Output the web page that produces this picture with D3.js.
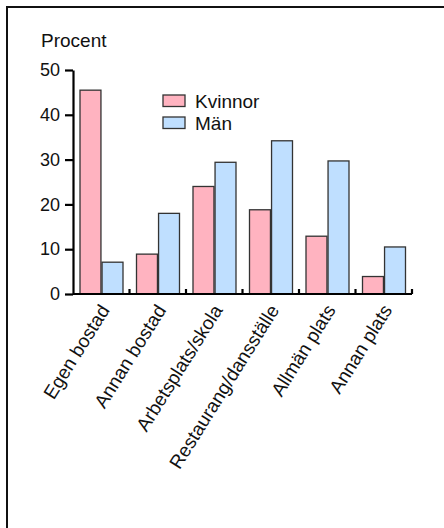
<!DOCTYPE html>
<html>
<head>
<meta charset="utf-8">
<script src="https://cdn.jsdelivr.net/npm/d3@7"></script>
<style>
  body { margin: 0; background: #fff; overflow: hidden; }
  svg { display: block; }
  svg text { font-family: "Liberation Sans", Arial, sans-serif; fill: #111; }
</style>
</head>
<body>
<svg width="444" height="528"></svg>
<script>
const categories = ["Egen bostad", "Annan bostad", "Arbetsplats/skola", "Restaurang/dansställe", "Allmän plats", "Annan plats"];
const series = ["Kvinnor", "Män"];
const kvinnor = [45.5, 8.9, 24.0, 18.8, 12.9, 3.9];
const man = [7.1, 18.0, 29.4, 34.2, 29.7, 10.5];
const yTicks = [0, 10, 20, 30, 40, 50];
const colors = ["#ffb3c0", "#bfdfff"];

let svg = d3.select("svg");

// frame, right and bottom edges fall outside the picture
svg.append("rect")
  .attr("x", 7).attr("y", 7)
  .attr("width", 460).attr("height", 540)
  .attr("fill", "none").attr("stroke", "#111").attr("stroke-width", 2);

let x = d3.scaleBand().domain(categories).range([73, 412]);
let xs = d3.scaleBand().domain(series).range([7, 50]).paddingInner(0.05);
let y = d3.scaleLinear().domain([0, 50]).range([294, 70]);

let rows = categories.map((c, i) => ({ cat: c, vals: [kvinnor[i], man[i]] }));

let groups = svg.append("g")
  .selectAll("g")
  .data(rows)
  .enter()
  .append("g")
  .attr("transform", d => "translate(" + x(d.cat) + ",0)");

groups.selectAll("rect")
  .data(d => d.vals.map((v, j) => ({ s: series[j], v: v, j: j })))
  .enter()
  .append("rect")
  .attr("x", d => xs(d.s))
  .attr("width", xs.bandwidth())
  .attr("y", d => y(d.v))
  .attr("height", d => y(0) - y(d.v))
  .attr("fill", d => colors[d.j])
  .attr("stroke", "#333")
  .attr("stroke-width", 1.3);

// y axis
let yAxis = svg.append("g")
  .attr("transform", "translate(73,0)")
  .call(d3.axisLeft(y).tickValues(yTicks).tickSize(8).tickSizeOuter(0).tickPadding(5));
yAxis.select(".domain").attr("stroke", "#000").attr("stroke-width", 2.2);
yAxis.selectAll(".tick line").attr("stroke", "#000").attr("stroke-width", 2.2);
yAxis.selectAll(".tick text")
  .style("font-family", "Liberation Sans Narrow, Liberation Sans, sans-serif")
  .attr("font-size", 18).attr("fill", "#111");

// x axis line with small upward ticks at group boundaries
svg.append("line")
  .attr("x1", 73).attr("x2", 412)
  .attr("y1", y(0)).attr("y2", y(0))
  .attr("stroke", "#000").attr("stroke-width", 2.2);
svg.append("g")
  .selectAll("line")
  .data(categories)
  .enter()
  .append("line")
  .attr("x1", d => x(d) + x.bandwidth())
  .attr("x2", d => x(d) + x.bandwidth())
  .attr("y1", y(0))
  .attr("y2", y(0) - 5)
  .attr("stroke", "#000").attr("stroke-width", 2.2);

// rotated category labels
svg.append("g")
  .selectAll("text")
  .data(categories)
  .enter()
  .append("text")
  .attr("transform", d => "translate(" + (x(d) + x.bandwidth() / 2 + 9) + "," + (y(0) + 16) + ") rotate(-58)")
  .attr("text-anchor", "end")
  .attr("font-size", 19)
  .text(d => d);

// axis title
svg.append("text")
  .attr("x", 41).attr("y", 47)
  .attr("font-size", 19)
  .text("Procent");

// legend
let legend = svg.append("g")
  .selectAll("g")
  .data(series)
  .enter()
  .append("g")
  .attr("transform", (d, i) => "translate(163," + (95 + i * 22) + ")");
legend.append("rect")
  .attr("width", 22).attr("height", 11.5)
  .attr("fill", (d, i) => colors[i])
  .attr("stroke", "#333").attr("stroke-width", 1.3);
legend.append("text")
  .attr("x", 32).attr("y", 13)
  .attr("font-size", 19)
  .text(d => d);
</script>
</body>
</html>
